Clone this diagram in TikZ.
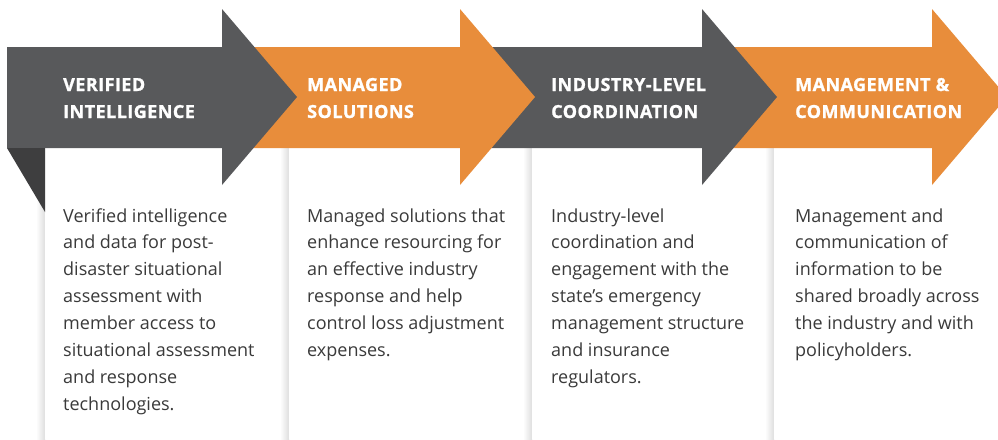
\documentclass[tikz,border=0pt]{standalone}
\usepackage{fontspec}
\setmainfont{Open Sans}
\usepackage{tikz}
\usetikzlibrary{calc}

\definecolor{arrowgray}{HTML}{58595B}
\definecolor{arroworange}{HTML}{E88D3B}
\definecolor{foldgray}{HTML}{3E3E3F}
\definecolor{bodygray}{HTML}{3A3A3A}

\begin{document}
\begin{tikzpicture}[x=1pt, y=-1pt,
    heading/.style={anchor=base west, align=left, inner sep=0pt, text=white,
      font=\fontsize{18}{27}\selectfont\bfseries\addfontfeature{LetterSpace=2.5,FakeBold=1.2}},
    bodytext/.style={anchor=base west, align=left, inner sep=0pt, text=bodygray,
      font=\fontsize{18}{26.9}\selectfont}]
    \useasboundingbox (0,0) rectangle (998,439);
    \clip (0,0) rectangle (998,439); % the last arrow head runs off the page

    % White cards, each with a soft shadow on its left side
    \foreach \x/\w in {45/244, 289/243, 532/242, 774/224}{
      \shade[left color=white, right color=black!13] (\x-9,148) rectangle (\x,439);
      \fill[white] (\x,148) rectangle (\x+\w,439);
    }

    % Arrows, drawn right to left so that each head lies on the next body
    \foreach \base/\start/\col in {932/702/arroworange, 702/460/arrowgray,
                                   460/222/arroworange, 222/7/arrowgray}{
      \fill[\col] (\start,47) -- (\base,47) -- (\base,9) -- (\base+75,97)
                  -- (\base,185) -- (\base,148) -- (\start,148) -- cycle;
    }
    \fill[foldgray] (7,148) -- (45,148) -- (45,212) -- cycle; % folded corner

    % Headings (the base anchor sits on the last line)
    \node[heading] (HeadVerified)   at (63,118)  {VERIFIED\\INTELLIGENCE};
    \node[heading] (HeadManaged)    at (307,118) {MANAGED\\SOLUTIONS};
    \node[heading] (HeadIndustry)   at (551,118) {INDUSTRY-LEVEL\\COORDINATION};
    \node[heading] (HeadManagement) at (795,118) {MANAGEMENT \&\\COMMUNICATION};

    % Card texts, first baseline at 222, 26.9 per line
    \node[bodytext] (TextVerified) at (63,410.3)
      {Verified intelligence\\and data for post-\\disaster situational\\assessment with\\member access to\\situational assessment\\and response\\technologies.};
    \node[bodytext] (TextManaged) at (307,356.5)
      {Managed solutions that\\enhance resourcing for\\an effective industry\\response and help\\control loss adjustment\\expenses.};
    \node[bodytext] (TextIndustry) at (551,383.4)
      {Industry-level\\coordination and\\engagement with the\\state’s emergency\\management structure\\and insurance\\regulators.};
    \node[bodytext] (TextManagement) at (795,356.5)
      {Management and\\communication of\\information to be\\shared broadly across\\the industry and with\\policyholders.};
\end{tikzpicture}
\end{document}
